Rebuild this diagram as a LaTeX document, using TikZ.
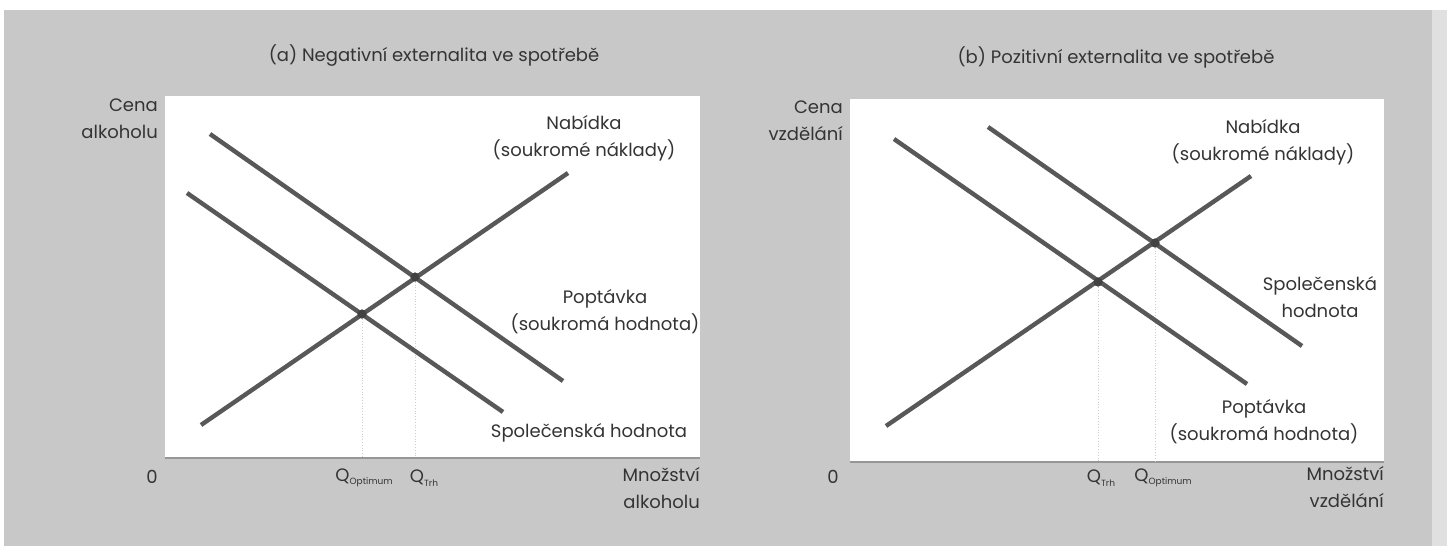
\documentclass[tikz,border=0pt]{standalone}
\usepackage{fontspec}
\setmainfont{Poppins}
\definecolor{panelgrey}{RGB}{200,200,200}
\definecolor{edgegrey}{RGB}{224,224,224}
\definecolor{curvegrey}{RGB}{88,88,88}
\definecolor{inkgrey}{RGB}{52,52,52}
\definecolor{axisgrey}{RGB}{150,150,150}
\definecolor{guidegrey}{RGB}{205,205,205}
\newcommand{\qsub}[1]{Q\raisebox{-3.5pt}{\fontsize{9}{9}\selectfont #1}}
\tikzset{
  curve/.style={draw=curvegrey, line width=4.4pt},
  guide/.style={draw=guidegrey, line width=0.8pt, dotted},
  axisline/.style={draw=axisgrey, line width=1.2pt},
  eqpoint/.style={circle, fill=curvegrey!75!black, inner sep=0pt, minimum size=9pt},
  lbl/.style={text=inkgrey, font=\fontsize{18}{27}\selectfont, inner sep=0pt, align=center},
  lblr/.style={lbl, align=right},
  ttl/.style={text=inkgrey, font=\fontsize{18}{22}\selectfont, inner sep=0pt},
  tick/.style={text=inkgrey, font=\fontsize{18}{22}\selectfont, inner sep=0pt},
}
\begin{document}
\begin{tikzpicture}[x=1pt, y=-1pt]
\useasboundingbox (0,0) rectangle (1447,546);
% page and printed panel
\fill[white] (0,0) rectangle (1447,546);
\fill[panelgrey] (4,10) rectangle (1447,546);
\fill[edgegrey] (1432,10) rectangle (1447,546);

% ---------------- (a) negative externality ----------------
\fill[white] (165,96) rectangle (700,458);
\draw[axisline] (165,458) -- (700,458);
\node[ttl] (ta) at (434,56) {(a) Negativní externalita ve spotřebě};
\node[lblr, anchor=east] (ya) at (158,119) {Cena\\alkoholu};
\node[tick] (za) at (152,477) {0};
\node[lblr, anchor=north east] (xa) at (700,467) {Množství\\alkoholu};

\coordinate (sa1) at (201,425);
\coordinate (sa2) at (568,173);
\coordinate (da1) at (210,134);
\coordinate (da2) at (563,381);
\coordinate (ca1) at (187,193);
\coordinate (ca2) at (503,412);
\node[eqpoint] (mka) at (415,277) {};
\node[eqpoint] (opa) at (362,314) {};
\coordinate (mkab) at (415,458);
\coordinate (opab) at (362,458);

\draw[guide] (mka) -- (mkab);
\draw[guide] (opa) -- (opab);
\draw[curve] (da1) -- (da2);
\draw[curve] (ca1) -- (ca2);
\draw[curve] (sa1) -- (sa2);
\node[eqpoint] at (mka) {};
\node[eqpoint] at (opa) {};

\node[tick] (qoa) at (364,478) {\qsub{Optimum}};
\node[tick] (qta) at (424,478) {\qsub{Trh}};
\node[lbl] (nsa) at (584,138) {Nabídka\\(soukromé náklady)};
\node[lbl] (ppa) at (605,312) {Poptávka\\(soukromá hodnota)};
\node[lbl] (spa) at (589,433) {Společenská hodnota};

% ---------------- (b) positive externality ----------------
\fill[white] (850,99) rectangle (1384,462);
\draw[axisline] (850,462) -- (1384,462);
\node[ttl] (tb) at (1116,57) {(b) Pozitivní externalita ve spotřebě};
\node[lblr, anchor=east] (yb) at (843,121) {Cena\\vzdělání};
\node[tick] (zb) at (833,477) {0};
\node[lblr, anchor=north east] (xb) at (1384,466) {Množství\\vzdělání};

\coordinate (sb1) at (886,426);
\coordinate (sb2) at (1251,176);
\coordinate (db1) at (894,139);
\coordinate (db2) at (1247,384);
\coordinate (cb1) at (988,127);
\coordinate (cb2) at (1302,346);
\node[eqpoint] (mkb) at (1098,282) {};
\node[eqpoint] (opb) at (1155,243) {};
\coordinate (mkbb) at (1098,462);
\coordinate (opbb) at (1155,462);

\draw[guide] (mkb) -- (mkbb);
\draw[guide] (opb) -- (opbb);
\draw[curve] (db1) -- (db2);
\draw[curve] (cb1) -- (cb2);
\draw[curve] (sb1) -- (sb2);
\node[eqpoint] at (mkb) {};
\node[eqpoint] at (opb) {};

\node[tick] (qtb) at (1101,478) {\qsub{Trh}};
\node[tick] (qob) at (1163,478) {\qsub{Optimum}};
\node[lbl] (nsb) at (1263,142) {Nabídka\\(soukromé náklady)};
\node[lbl] (spb) at (1320,297) {Společenská\\hodnota};
\node[lbl] (ppb) at (1264,422) {Poptávka\\(soukromá hodnota)};
\end{tikzpicture}
\end{document}
